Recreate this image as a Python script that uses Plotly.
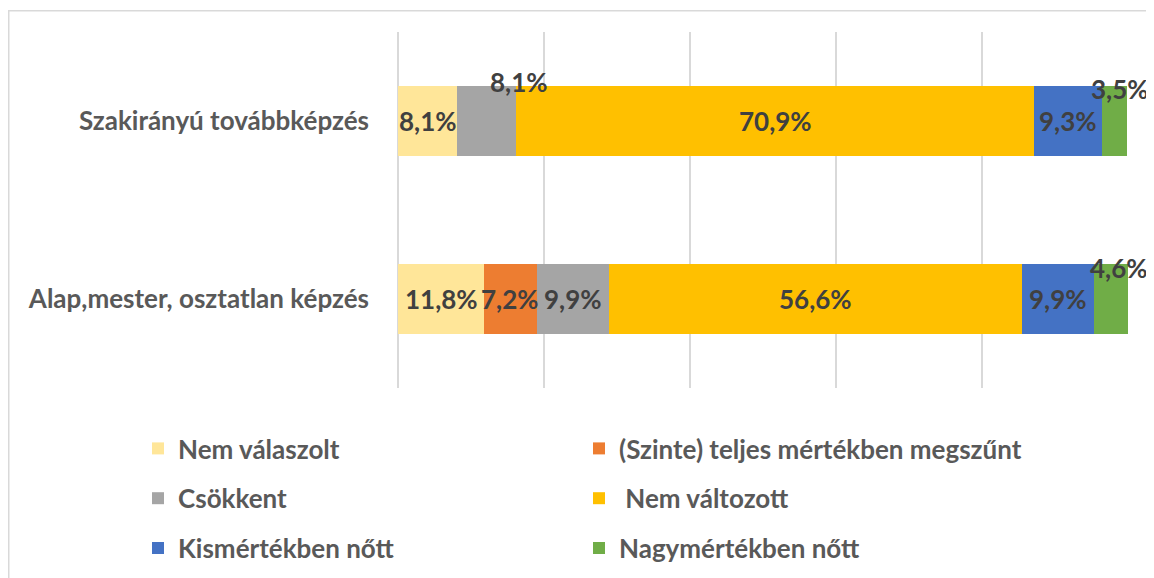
import plotly.graph_objects as go

categories = ["Alap,mester, osztatlan képzés", "Szakirányú továbbképzés"]
series_names = [
    "Nem válaszolt",
    "(Szinte) teljes mértékben megszűnt",
    "Csökkent",
    "\u00a0Nem változott",
    "Kismértékben nőtt",
    "Nagymértékben nőtt",
]
# values per series: [Alap..., Szakirányú...]
nem_valaszolt = [11.8, 8.1]
megszunt = [7.2, 0.0]
csokkent = [9.9, 8.1]
nem_valtozott = [56.6, 70.9]
kis_nott = [9.9, 9.3]
nagy_nott = [4.6, 3.5]

colors = ["#FFE699", "#ED7D31", "#A5A5A5", "#FFC000", "#4472C4", "#70AD47"]
legend_of = ["legend", "legend2", "legend", "legend2", "legend", "legend2"]
series = [nem_valaszolt, megszunt, csokkent, nem_valtozott, kis_nott, nagy_nott]

# labels that were dragged off-centre in the original: (series, category) -> (xshift, yshift)
moved = {(2, 1): (32, 39), (5, 1): (5, 32), (5, 0): (8, 31)}

FONT = "Lato"
# page body has an 8px margin, so the figure is drawn 8px smaller
W, H = 1146, 570
L, R, T, B = 390, 26, 24, 190
pw, ph = W - L - R, H - T - B

fig = go.Figure()
for i, (name, vals) in enumerate(zip(series_names, series)):
    fig.add_trace(
        go.Bar(
            y=categories,
            x=vals,
            name=name,
            orientation="h",
            marker=dict(color=colors[i], line=dict(width=0)),
            legend=legend_of[i],
            legendgroup=f"g{i}",
            hoverinfo="skip",
        )
    )

annotations = []
for c, cat in enumerate(categories):
    base = 0.0
    for i, vals in enumerate(series):
        v = vals[c]
        if v > 0:
            dx, dy = moved.get((i, c), (0, 0))
            annotations.append(
                dict(
                    x=base + v / 2,
                    y=cat,
                    xref="x",
                    yref="y",
                    text=f"{v:.1f}%".replace(".", ","),
                    showarrow=False,
                    xshift=dx,
                    yshift=dy,
                    font=dict(family=FONT, size=26, color="#404040", weight="bold"),
                )
            )
        base += v

legend_style = dict(
    orientation="v",
    yanchor="top",
    xanchor="left",
    y=(ph - (417 - T)) / ph,
    font=dict(family=FONT, size=26, color="#595959", weight="bold"),
    tracegroupgap=13,
    bgcolor="rgba(0,0,0,0)",
)

fig.update_layout(
    width=W,
    height=H,
    barmode="stack",
    bargap=0.607,
    margin=dict(l=L, r=R, t=T, b=B, autoexpand=False),
    paper_bgcolor="white",
    plot_bgcolor="white",
    annotations=annotations,
    legend=dict(legend_style, x=(130 - L) / pw),
    legend2=dict(legend_style, x=(571 - L) / pw),
    shapes=[
        dict(
            type="rect",
            xref="paper",
            yref="paper",
            x0=(0.75 - L) / pw,
            x1=(W + 5 - L) / pw,
            y0=(ph + T - 2.75) / ph,
            y1=-(B + 5) / ph,
            line=dict(color="#d9d9d9", width=1.5),
            layer="below",
        )
    ],
)
fig.update_xaxes(
    range=[0, 100],
    dtick=20,
    showgrid=True,
    gridcolor="#d9d9d9",
    gridwidth=1.5,
    zeroline=True,
    zerolinecolor="#d9d9d9",
    zerolinewidth=1.5,
    showticklabels=False,
    fixedrange=True,
)
fig.update_yaxes(
    tickfont=dict(family=FONT, size=26, color="#595959", weight="bold"),
    ticklabelstandoff=28,
    showgrid=False,
    fixedrange=True,
)

fig.write_html("out.html")
